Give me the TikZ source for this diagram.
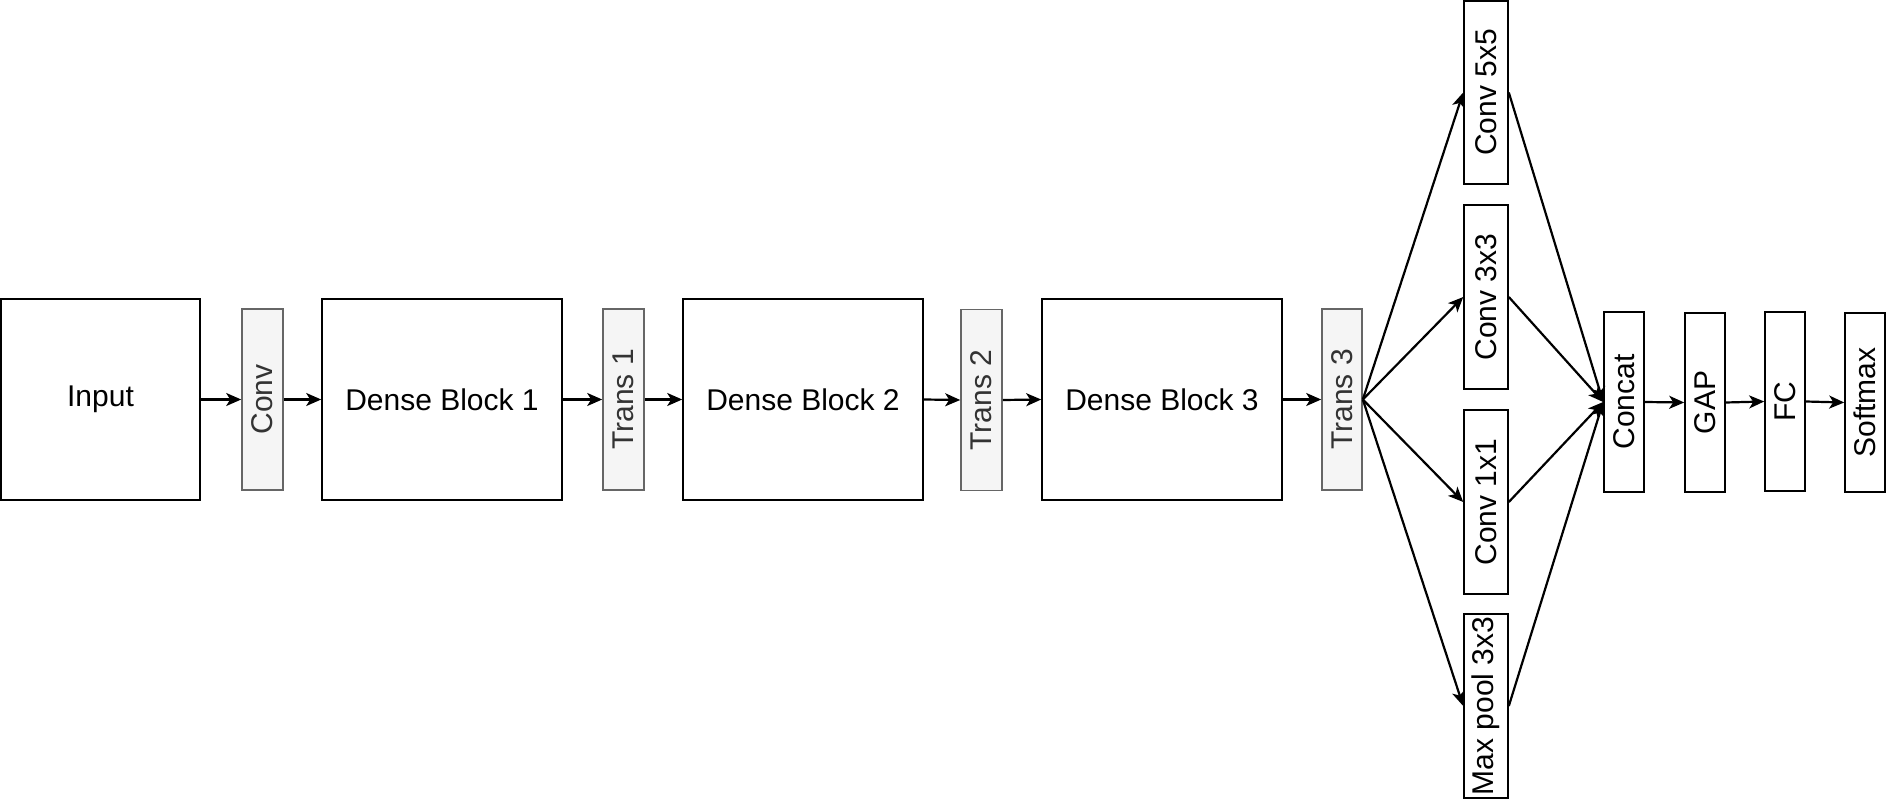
\documentclass[tikz,border=0pt]{standalone}
\usepackage{fontspec}
\setmainfont{Liberation Sans}
\usetikzlibrary{arrows.meta}
\definecolor{transfill}{HTML}{F5F5F5}
\definecolor{transdraw}{HTML}{666666}
\definecolor{transtext}{HTML}{333333}
\begin{document}
\begin{tikzpicture}[x=1pt,y=-1pt,
  font=\fontsize{30}{34}\selectfont,
  box/.style={draw=black, line width=1.6pt, fill=white, inner sep=0pt, minimum width=240pt, minimum height=201pt},
  vbox/.style={draw=black, line width=1.6pt, fill=white, inner sep=0pt, minimum width=#1},
  vlab/.style={rotate=90, inner sep=0pt},
  tbox/.style={draw=transdraw, line width=1.6pt, fill=transfill, inner sep=0pt, minimum width=41pt, minimum height=181pt},
  tlab/.style={rotate=90, inner sep=0pt, text=transtext},
  arr/.style={-{Stealth[length=15pt,width=13pt,inset=4pt]}, line width=2.2pt}
]
\useasboundingbox (0,0) rectangle (1886,799);

% main chain
\node[box, minimum width=199pt] (input) at (100.5,399.5) {Input};
\node[tbox, label={[tlab]center:Conv}] (conv) at (262.5,399.5) {};
\node[box] (db1) at (442,399.5) {Dense Block 1};
\node[tbox, label={[tlab]center:Trans 1}] (t1) at (623.5,399.5) {};
\node[box] (db2) at (803,399.5) {Dense Block 2};
\node[tbox, label={[tlab]center:Trans 2}] (t2) at (981.5,400) {};
\node[box] (db3) at (1162,399.5) {Dense Block 3};
\node[tbox, minimum width=40pt, label={[tlab]center:Trans 3}] (t3) at (1342,399.5) {};

% branches
\node[vbox=44pt, minimum height=183pt, label={[vlab]center:Conv 5x5}] (c5) at (1486,92.5) {};
\node[vbox=44pt, minimum height=184pt, label={[vlab]center:Conv 3x3}] (c3) at (1486,297) {};
\node[vbox=44pt, minimum height=184pt, label={[vlab]center:Conv 1x1}] (c1) at (1486,502) {};
\node[vbox=44pt, minimum height=184pt, label={[vlab]center:Max pool 3x3}] (mp) at (1486,706) {};

% tail
\node[vbox=40pt, minimum height=180pt, label={[vlab]center:Concat}] (cat) at (1624,402) {};
\node[vbox=40pt, minimum height=179pt, label={[vlab]center:GAP}] (gap) at (1705,402.5) {};
\node[vbox=40pt, minimum height=179pt, label={[vlab]center:FC}] (fc) at (1785,401.5) {};
\node[vbox=40pt, minimum height=179pt, label={[vlab]center:Softmax}] (sm) at (1865,402.5) {};

% connectors
\draw[arr] (input.east) -- (conv.west);
\draw[arr] (conv.east) -- (db1.west);
\draw[arr] (db1.east) -- (t1.west);
\draw[arr] (t1.east) -- (db2.west);
\draw[arr] (db2.east) -- (t2.west);
\draw[arr] (t2.east) -- (db3.west);
\draw[arr] (db3.east) -- (t3.west);

\draw[arr] (t3.east) -- (c5.west);
\draw[arr] (t3.east) -- (c3.west);
\draw[arr] (t3.east) -- (c1.west);
\draw[arr] (t3.east) -- (mp.west);

\draw[arr] (c5.east) -- (cat.west);
\draw[arr] (c3.east) -- (cat.west);
\draw[arr] (c1.east) -- (cat.west);
\draw[arr] (mp.east) -- (cat.west);

\draw[arr] (cat.east) -- (gap.west);
\draw[arr] (gap.east) -- (fc.west);
\draw[arr] (fc.east) -- (sm.west);
\end{tikzpicture}
\end{document}
